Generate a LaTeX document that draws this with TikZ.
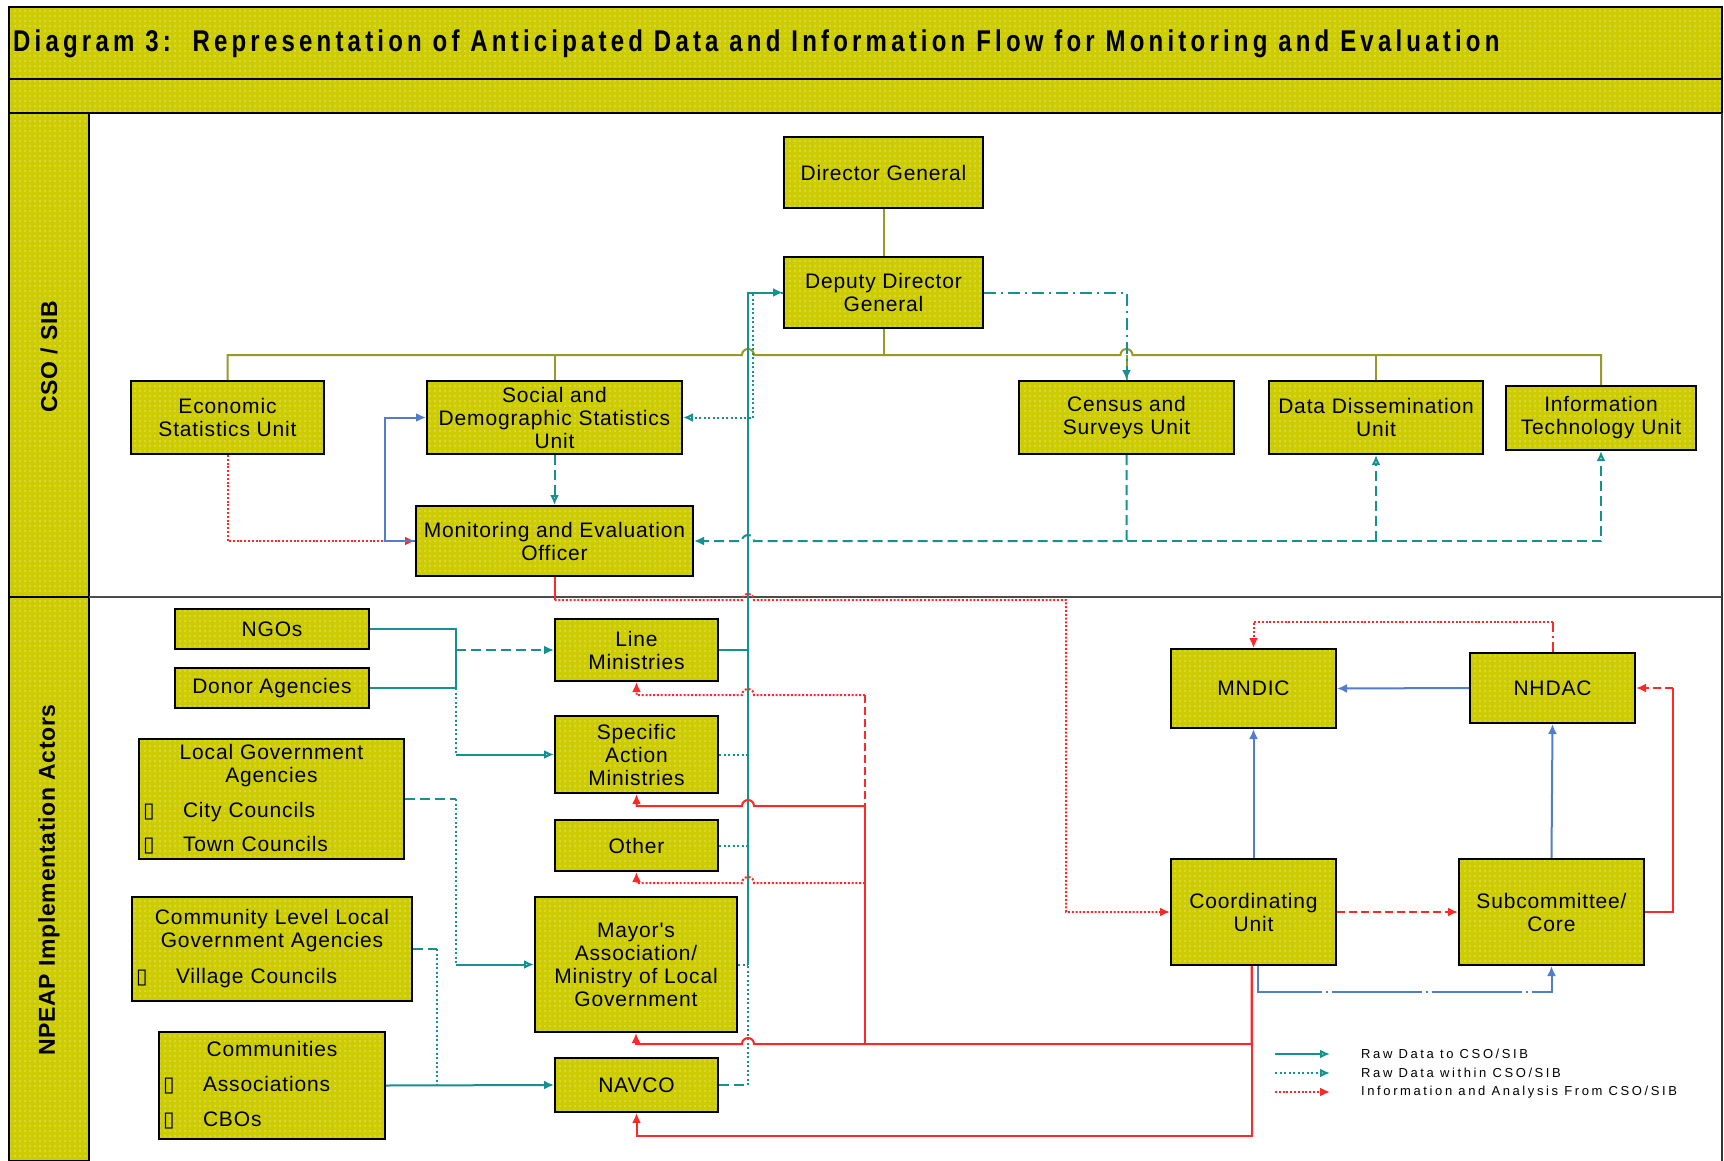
\documentclass[tikz,border=0pt]{standalone}
\usepackage{fontspec}
\setmainfont{Liberation Sans}
\newfontfamily\boxfont{Liberation Sans}[LetterSpace=4]
\newfontfamily\titlefont{Liberation Sans}[FakeStretch=0.8,LetterSpace=14]
\newfontfamily\sidefont{Liberation Sans}[LetterSpace=3]
\newfontfamily\keyfont{Liberation Sans}[LetterSpace=20]
\newfontfamily\symfont{DejaVu Sans}
\usetikzlibrary{arrows.meta,patterns.meta}

\definecolor{boxfill}{RGB}{204,204,0}
\definecolor{olivec}{RGB}{153,153,40}
\definecolor{tealc}{RGB}{20,145,145}
\definecolor{redc}{RGB}{255,40,40}
\definecolor{bluec}{RGB}{80,125,205}

\newcommand{\bulitem}[1]{\makebox[40pt][l]{\symfont\char"25AF}#1}

\tikzset{
	yellowdots/.style={preaction={fill=boxfill}, preaction={pattern={Dots[distance=5pt,radius=0.7pt]}, pattern color=white}},
	bar/.style={yellowdots, draw=black, line width=1.5pt},
	unit/.style={yellowdots, draw=black, line width=2pt, align=center, inner sep=2pt,
		font=\boxfont\fontsize{21}{23}\selectfont},
	list/.style={align=left, inner xsep=4pt, inner ysep=0pt},
	org/.style={draw=olivec, line width=2pt},
	rawto/.style={draw=tealc, line width=2pt},
	rawin/.style={draw=tealc, line width=2pt, dash pattern=on 2pt off 2.5pt},
	rawdash/.style={draw=tealc, line width=2pt, dash pattern=on 10pt off 5pt},
	rawdd/.style={draw=tealc, line width=2pt, dash pattern=on 12pt off 5pt on 2pt off 5pt},
	info/.style={draw=redc, line width=2pt, dash pattern=on 2pt off 1.8pt},
	infosolid/.style={draw=redc, line width=2pt},
	infodash/.style={draw=redc, line width=2pt, dash pattern=on 8pt off 4pt},
	infodd/.style={draw=redc, line width=2pt, dash pattern=on 10pt off 4pt on 2pt off 4pt},
	cline/.style={draw=bluec, line width=2pt},
	clinedd/.style={draw=bluec, line width=2pt, dash pattern=on 90pt off 4pt on 2pt off 4pt},
	flowtip/.style={-{Latex[length=10pt,width=9pt]}},
	flowtipo/.style={-{Latex[open,length=10pt,width=9pt]}},
	keytext/.style={font=\keyfont\fontsize{13}{15}\selectfont, anchor=west, inner sep=0pt}
}

\begin{document}
\begin{tikzpicture}[x=1pt, y=-1pt]
	\useasboundingbox (0,0) rectangle (1724,1161);
	\fill[white] (0,0) rectangle (1724,1161);

	% frame and headings
	\draw[bar] (9,7) rectangle (1722,79);
	\draw[bar] (9,79) rectangle (1722,113);
	\draw[bar] (9,113) rectangle (89,597);
	\draw[bar] (9,597) rectangle (89,1161);
	\draw[black!80, line width=1.5pt] (1722,113) -- (1722,1161);
	\draw[black!70, line width=2pt] (89,597) -- (1722,597);

	\node[anchor=west, inner sep=0pt, font=\titlefont\bfseries\fontsize{30}{32}\selectfont] (title) at (13,44)
		{Diagram 3:\ \ Representation of Anticipated Data and Information Flow for Monitoring and Evaluation};
	\node[rotate=90, font=\sidefont\bfseries\fontsize{23}{25}\selectfont] (cso) at (49,357) {CSO / SIB};
	\node[rotate=90, font=\sidefont\bfseries\fontsize{23}{25}\selectfont] (npeap) at (49,880) {NPEAP Implementation Actors};

	% CSO / SIB units
	\node[unit, minimum width=199pt, minimum height=71pt] (dg) at (883.5,172.5) {Director General};
	\node[unit, minimum width=199pt, minimum height=71pt] (ddg) at (883.5,292.5) {Deputy Director\\General};
	\node[unit, minimum width=193pt, minimum height=73pt] (econ) at (227.5,417.5) {Economic\\Statistics Unit};
	\node[unit, minimum width=255pt, minimum height=73pt] (social) at (554.5,417.5) {Social and\\Demographic Statistics\\Unit};
	\node[unit, minimum width=277pt, minimum height=70pt] (me) at (554.5,541) {Monitoring and Evaluation\\Officer};
	\node[unit, minimum width=215pt, minimum height=73pt] (census) at (1126.5,417.5) {Census and\\Surveys Unit};
	\node[unit, minimum width=214pt, minimum height=73pt] (datadiss) at (1376,417.5) {Data Dissemination\\Unit};
	\node[unit, minimum width=190pt, minimum height=64pt] (it) at (1601,418) {Information\\Technology Unit};

	% implementation actors
	\node[unit, minimum width=194pt, minimum height=40pt] (ngo) at (272,629) {NGOs};
	\node[unit, minimum width=194pt, minimum height=40pt] (donor) at (272,688) {Donor Agencies};
	\node[unit, list, text width=257pt, minimum height=120pt] (localgov) at (271.5,799)
		{{\centering Local Government\\Agencies\par}\vspace{12pt}\noindent\bulitem{City Councils}\par\vspace{11pt}\noindent\bulitem{Town Councils}};
	\node[unit, list, text width=272pt, minimum height=104pt] (commlevel) at (272,949)
		{{\centering Community Level Local\\Government Agencies\par}\vspace{13pt}\noindent\bulitem{Village Councils}};
	\node[unit, list, text width=218pt, minimum height=107pt] (communities) at (272,1085.5)
		{{\centering Communities\par}\vspace{12pt}\noindent\bulitem{Associations}\par\vspace{12pt}\noindent\bulitem{CBOs}};
	\node[unit, minimum width=163pt, minimum height=62pt] (line) at (636.5,650) {Line\\Ministries};
	\node[unit, minimum width=163pt, minimum height=77pt] (spec) at (636.5,754.5) {Specific\\Action\\Ministries};
	\node[unit, minimum width=163pt, minimum height=51pt] (other) at (636.5,845.5) {Other};
	\node[unit, minimum width=202pt, minimum height=135pt] (mayor) at (636,964.5) {Mayor's\\Association/\\Ministry of Local\\Government};
	\node[unit, minimum width=163pt, minimum height=54pt] (navco) at (636.5,1085) {NAVCO};
	\node[unit, minimum width=165pt, minimum height=79pt] (mndic) at (1253.5,688.5) {MNDIC};
	\node[unit, minimum width=165pt, minimum height=70pt] (nhdac) at (1552.5,688) {NHDAC};
	\node[unit, minimum width=165pt, minimum height=106pt] (coord) at (1253.5,912) {Coordinating\\Unit};
	\node[unit, minimum width=185pt, minimum height=106pt] (subcom) at (1551.5,912) {Subcommittee/\\Core};

	% helper levels
	\coordinate (busy) at (0,355);
	\coordinate (feed) at (0,541);
	\coordinate (trunk) at (748,0);
	\coordinate (split) at (456,0);
	\coordinate (splitb) at (436.5,0);
	\coordinate (rtrunk) at (865,0);
	\coordinate (rlow) at (0,1136);
	\coordinate (blow) at (0,992);
	\coordinate (rtop) at (0,622);
	\coordinate (rloop) at (1673,0);

	% organisation lines
	\draw[org] (dg) -- (ddg);
	\draw[org] (ddg.south) -- (ddg.south |- busy);
	\draw[org] (econ.north) |- (742,355) arc[start angle=180, end angle=360, radius=6]
		-- (1120.5,355) arc[start angle=180, end angle=360, radius=6] -| (it.north);
	\draw[org] (social.north) -- (social.north |- busy);
	\draw[org] (census.north) -- (census.north |- busy);
	\draw[org] (datadiss.north) -- (datadiss.north |- busy);

	% raw data to CSO / SIB
	\draw[rawto, flowtip] (mayor.east -| trunk) -- (trunk |- ddg.west) -- (ddg.west);
	\draw[rawin, flowtipo] (ddg.west) -| (753,417.5) -- (social.east);
	\draw[rawdd, flowtip] (ddg.east) -| (census.north);
	\draw[rawdash, flowtipo] (social.south) -- (me.north);
	\draw[rawdash, flowtip] (census.south) |- (754,541) arc[start angle=0, end angle=-180, radius=6] -- (me.east);
	\draw[rawdash, flowtipo] (census.south |- feed) -| (it.south);
	\draw[rawdash, flowtipo] (datadiss.south |- feed) -- (datadiss.south);

	\draw[rawto] (ngo.east) -| (split |- donor.east) -- (donor.east);
	\draw[rawdash, flowtip] (split |- line.west) -- (line.west);
	\draw[rawin] (split |- donor.east) -- (split |- spec.west);
	\draw[rawto, flowtipo] (split |- spec.west) -- (spec.west);
	\draw[rawdash] (localgov.east) -- (localgov.east -| split);
	\draw[rawin] (localgov.east -| split) -- (split |- mayor.west);
	\draw[rawto, flowtipo] (split |- mayor.west) -- (mayor.west);
	\draw[rawdash] (commlevel.east) -- (commlevel.east -| splitb);
	\draw[rawin] (commlevel.east -| splitb) -- (splitb |- communities.east);
	\draw[rawto, flowtip] (communities.east) -- (navco.west);

	\draw[rawto] (line.east) -- (line.east -| trunk);
	\draw[rawin] (spec.east) -- (spec.east -| trunk);
	\draw[rawin] (other.east) -- (other.east -| trunk);
	\draw[rawin] (mayor.east) -- (mayor.east -| trunk);
	\draw[rawdash] (navco.east) -- (navco.east -| trunk);
	\draw[rawin] (navco.east -| trunk) -- (mayor.east -| trunk);

	% information and analysis
	\draw[info, flowtip] (econ.south) |- (me.west);
	\draw[cline, flowtip] (me.west) -- ++(-30,0) |- (social.west);
	\draw[infosolid] (me.south) -- (554.5,600);
	\draw[info, flowtip] (554.5,600) -- (742,600) arc[start angle=180, end angle=360, radius=6] -- (1066,600) |- (coord.west);

	\draw[info, flowtip] (rtrunk |- 0,695) -- (754,695) arc[start angle=0, end angle=-180, radius=6] -| (line.south);
	\draw[infodash] (rtrunk |- 0,695) -- (rtrunk |- 0,806);
	\draw[infosolid, flowtip] (rtrunk |- 0,806) -- (754,806) arc[start angle=0, end angle=-180, radius=6] -| (spec.south);
	\draw[info, flowtip] (rtrunk |- 0,883) -- (754,883) arc[start angle=0, end angle=-180, radius=6] -| (other.south);
	\draw[infosolid] (rtrunk |- 0,806) -- (rtrunk |- 0,1044);
	\draw[infosolid, flowtip] ([xshift=-2pt]coord.south) |- (754,1044) arc[start angle=0, end angle=-180, radius=6] -| (mayor.south);
	\draw[infosolid, flowtip] ([xshift=-2pt]coord.south) |- (navco.south |- rlow) -- (navco.south);

	% coordination
	\draw[cline, flowtip] (nhdac.west) -- (mndic.east);
	\draw[cline, flowtip] (coord.north) -- (mndic.south);
	\draw[cline, flowtip] (subcom.north) -- (nhdac.south);
	\draw[clinedd, flowtip] ([xshift=4pt]coord.south) |- (subcom.south |- blow) -- (subcom.south);
	\draw[infodash, flowtip] (coord.east) -- (subcom.west);
	\draw[infosolid] (subcom.east) -| (rloop |- nhdac.east);
	\draw[infodash, flowtip] (rloop |- nhdac.east) -- (nhdac.east);
	\draw[infodd] (nhdac.north) -- (nhdac.north |- rtop);
	\draw[info, flowtip] (nhdac.north |- rtop) -| (mndic.north);

	% key
	\coordinate (k1a) at (1275,1054);
	\coordinate (k1b) at (1330,1054);
	\coordinate (k2a) at (1275,1073);
	\coordinate (k2b) at (1330,1073);
	\coordinate (k3a) at (1275,1092);
	\coordinate (k3b) at (1330,1092);
	\draw[rawto, flowtipo] (k1a) -- (k1b);
	\draw[rawin, flowtipo] (k2a) -- (k2b);
	\draw[info, flowtip] (k3a) -- (k3b);
	\node[keytext] (k1) at (1361,1054) {Raw Data to CSO/SIB};
	\node[keytext] (k2) at (1361,1073) {Raw Data within CSO/SIB};
	\node[keytext] (k3) at (1361,1092) {Information and Analysis From CSO/SIB};
\end{tikzpicture}
\end{document}
